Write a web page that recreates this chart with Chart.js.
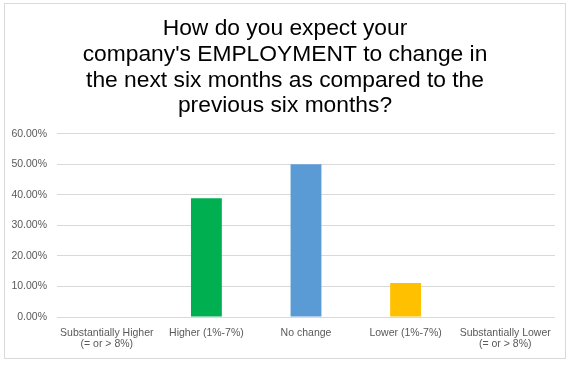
<!DOCTYPE html>
<html>
<head>
<meta charset="utf-8">
<script src="https://cdn.jsdelivr.net/npm/chart.js@4/dist/chart.umd.min.js"></script>
<style>
  body { margin: 0; background: #fff; }
  #box {
    position: absolute; left: 4px; top: 3px;
    width: 560px; height: 354px;
    border: 1px solid #d9d9d9;
  }
</style>
</head>
<body>
<div id="box"><canvas id="empChart" width="560" height="354"></canvas></div>
<script>
// survey answers (share of respondents)
var categories = [
  ["Substantially Higher", "(= or > 8%)"],
  "Higher (1%-7%)",
  "No change",
  "Lower (1%-7%)",
  ["Substantially Lower", "(= or > 8%)"]
];
var shares = [0, 0.3889, 0.5, 0.1111, 0];
var barColors = ["#00b050", "#00b050", "#5b9bd5", "#ffc000", "#ffc000"];
var yTicks = [0, 0.1, 0.2, 0.3, 0.4, 0.5, 0.6];

var tickFont = { family: "'Liberation Sans', Arial, sans-serif", size: 10.5, lineHeight: 1.0 };

var ctx = document.getElementById("empChart").getContext("2d");
var empChart = new Chart(ctx, {
  type: "bar",
  data: {
    labels: categories,
    datasets: [{
      data: shares,
      backgroundColor: barColors,
      barPercentage: 0.31,
      categoryPercentage: 1
    }]
  },
  options: {
    responsive: false,
    animation: false,
    layout: { padding: { left: 0, right: 0, top: 0, bottom: 4 } },
    plugins: {
      legend: { display: false },
      tooltip: { enabled: false },
      title: {
        display: true,
        text: [
          "How do you expect your",
          "company's EMPLOYMENT to change in",
          "the next six months as compared to the",
          "previous six months?"
        ],
        color: "#000",
        font: { family: "'Liberation Sans', Arial, sans-serif", size: 22.8, weight: "normal", lineHeight: 1.127 },
        padding: { top: 12, bottom: 15 }
      }
    },
    scales: {
      x: {
        grid: { display: false },
        border: { display: false },
        ticks: { color: "#595959", font: tickFont, padding: 3, maxRotation: 0, autoSkip: false },
        afterFit: function (scale) { scale.height = 37; }
      },
      y: {
        min: 0,
        max: 0.6,
        afterBuildTicks: function (scale) {
          scale.ticks = yTicks.map(function (v) { return { value: v }; });
        },
        grid: { color: "#d9d9d9", drawTicks: false },
        border: { display: false },
        ticks: {
          color: "#595959",
          font: tickFont,
          padding: 10,
          callback: function (v) { return (v * 100).toFixed(2) + "%"; }
        },
        afterFit: function (scale) { scale.width = 52; }
      },
      // empty strip on the right so the plot ends before the frame
      yRight: {
        position: "right",
        grid: { display: false },
        border: { display: false },
        ticks: { display: false },
        afterFit: function (scale) { scale.width = 10; }
      }
    }
  }
});
</script>
</body>
</html>
